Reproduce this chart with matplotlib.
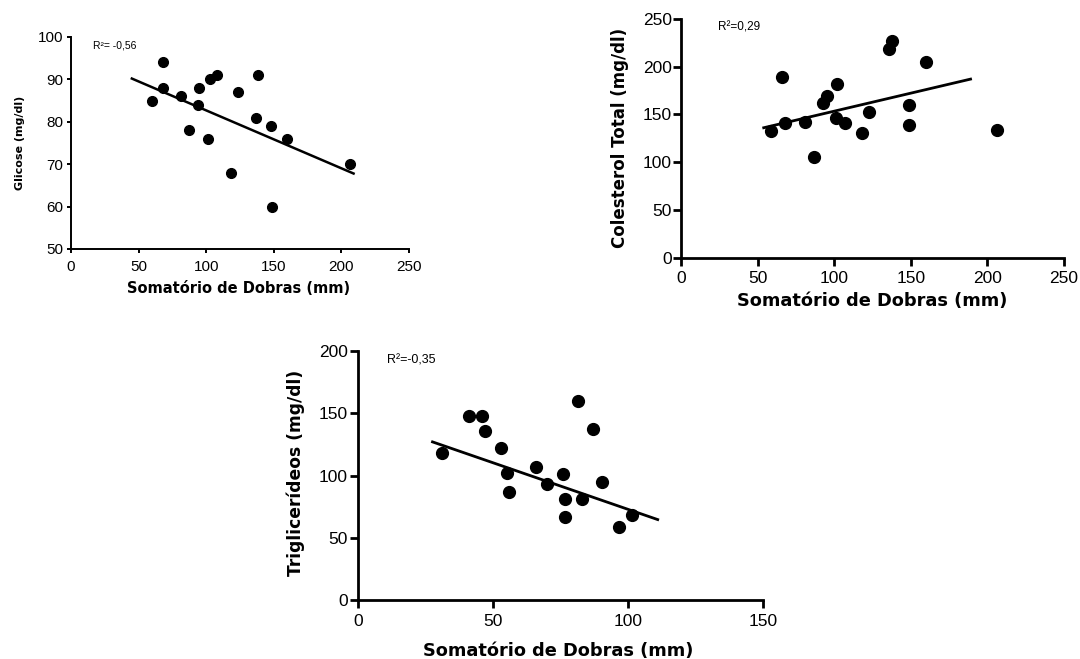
import matplotlib
matplotlib.use('Agg')
import matplotlib.pyplot as plt

plt.rcParams['font.family'] = ['Liberation Sans', 'DejaVu Sans']

# ── Data ─────────────────────────────────────────────────────────────
# Glicose vs. somatório de dobras
glic_x = [60, 68, 68, 81, 87, 95, 94, 101, 103, 108, 118, 123.5, 138, 137, 148, 149, 160, 206]
glic_y = [85, 94, 88, 86, 78, 88, 84, 76, 90, 91, 68, 87, 91, 81, 79, 60, 76, 70]
glic_fit_x = [45, 209]
glic_fit_y = [90.2, 67.8]

# Colesterol total vs. somatório de dobras
col_x = [59, 66, 68, 81, 87, 93, 95, 101, 102, 107, 118, 123, 136, 138, 149, 148.5, 160, 206.5]
col_y = [133, 189, 141, 142, 105, 162, 169, 146, 182, 141, 131, 152, 219, 227, 160, 139, 205, 134]
col_fit_x = [54, 189]
col_fit_y = [136, 187]

# Triglicerídeos vs. somatório de dobras
tri_x = [31, 41, 46, 47, 53, 55, 56, 66, 70, 76, 76.5, 76.7, 81.6, 83, 87, 90.5, 96.6, 101.5]
tri_y = [118, 148, 148, 136, 122, 102, 87, 107, 93, 101, 81, 67, 160, 81, 137, 95, 59, 68]
tri_fit_x = [27.6, 111]
tri_fit_y = [127, 64.6]

W, H = 1080, 659
fig = plt.figure(figsize=(W / 100, H / 100), dpi=100)


def px_axes(left, right, top, bottom):
    return fig.add_axes([left / W, (H - bottom) / H, (right - left) / W, (bottom - top) / H])


def style(ax, xlim, ylim, xticks, yticks, tick_fs, lw, tlen, xpad, ypad):
    ax.set_xlim(*xlim)
    ax.set_ylim(*ylim)
    ax.set_xticks(xticks)
    ax.set_yticks(yticks)
    for s in ['top', 'right']:
        ax.spines[s].set_visible(False)
    for s in ['left', 'bottom']:
        ax.spines[s].set_linewidth(lw)
    ax.tick_params(direction='out', length=tlen, width=lw, labelsize=tick_fs)
    ax.tick_params(axis='x', pad=xpad)
    ax.tick_params(axis='y', pad=ypad)


LABEL_FONT = 'DejaVu Sans'

# ── Panel 1: Glicose ─────────────────────────────────────────────────
ax1 = px_axes(71, 409, 37, 249)
ax1.plot(glic_x, glic_y, 'o', color='black', ms=7, clip_on=False)
ax1.plot(glic_fit_x, glic_fit_y, color='black', lw=1.8)
style(ax1, (0, 250), (50, 100), [0, 50, 100, 150, 200, 250], [50, 60, 70, 80, 90, 100],
      11, 1.4, 3, 5, 2.5)
ax1.set_xlabel('Somatório de Dobras (mm)', fontsize=10.5, fontweight='bold', family=LABEL_FONT)
ax1.xaxis.set_label_coords(0.497, -0.153)
ax1.set_ylabel('Glicose (mg/dl)', fontsize=8, fontweight='bold', family=LABEL_FONT)
ax1.yaxis.set_label_coords(-0.136, 0.5)
ax1.text(0.065, 0.985, 'R²= -0,56', transform=ax1.transAxes, fontsize=7.5, va='top')

# ── Panel 2: Colesterol Total ────────────────────────────────────────
ax2 = px_axes(681, 1064, 19, 257.5)
ax2.plot(col_x, col_y, 'o', color='black', ms=8.5, clip_on=False)
ax2.plot(col_fit_x, col_fit_y, color='black', lw=2)
style(ax2, (0, 250), (0, 250), [0, 50, 100, 150, 200, 250], [0, 50, 100, 150, 200, 250],
      12.5, 2, 5.5, 4, 1)
ax2.set_xlabel('Somatório de Dobras (mm)', fontsize=12.8, fontweight='bold', family=LABEL_FONT)
ax2.xaxis.set_label_coords(0.5, -0.146)
ax2.set_ylabel('Colesterol Total (mg/dl)', fontsize=12, fontweight='bold', family=LABEL_FONT)
ax2.yaxis.set_label_coords(-0.136, 0.5)
ax2.text(0.097, 0.99, 'R²=0,29', transform=ax2.transAxes, fontsize=8.5, va='top')

# ── Panel 3: Triglicerídeos ──────────────────────────────────────────
ax3 = px_axes(358, 763, 351, 600)
ax3.plot(tri_x, tri_y, 'o', color='black', ms=8.5, clip_on=False)
ax3.plot(tri_fit_x, tri_fit_y, color='black', lw=2)
style(ax3, (0, 150), (0, 200), [0, 50, 100, 150], [0, 50, 100, 150, 200],
      12.5, 2, 5.5, 4.5, 2)
ax3.set_xlabel('Somatório de Dobras (mm)', fontsize=12.8, fontweight='bold', family=LABEL_FONT)
ax3.xaxis.set_label_coords(0.495, -0.167)
ax3.set_ylabel('Triglicerídeos (mg/dl)', fontsize=12.3, fontweight='bold', family=LABEL_FONT)
ax3.yaxis.set_label_coords(-0.131, 0.512)
ax3.text(0.072, 0.985, 'R²=-0,35', transform=ax3.transAxes, fontsize=9, va='top')

fig.savefig('out.png', dpi=100)
